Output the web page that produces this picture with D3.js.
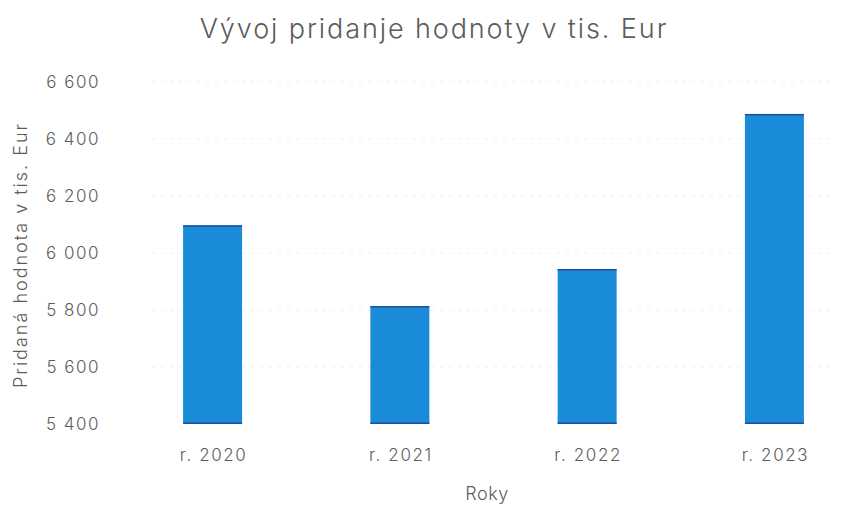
<!DOCTYPE html>
<html>
<head>
<meta charset="utf-8">
<script src="https://cdn.jsdelivr.net/npm/d3@7"></script>
<style>
  body { margin: 0; background: #fff; }
  text { font-family: Inter, Roboto, sans-serif; fill: #5c5c5c; font-weight: 300; }
</style>
</head>
<body>
<div id="chart"></div>
<script>
// data
const years = ["r. 2020", "r. 2021", "r. 2022", "r. 2023"];
const values = [6097, 5814, 5944, 6488];
const yTicks = [5400, 5600, 5800, 6000, 6200, 6400, 6600];

// formatting constants
const width = 842;
const height = 506;
const plot = {left: 152, right: 835, top: 82, bottom: 424};

const fmt = d3.formatLocale({decimal: ",", thousands: "\u00a0", grouping: [3], currency: ["", " €"]}).format(",d");

const svg = d3.select("#chart")
    .append("svg")
        .attr("width", width)
        .attr("height", height);

// scales
const x = d3.scaleBand()
    .domain(years)
    .range([plot.left, plot.right])
    .paddingInner(0.685)
    .paddingOuter(0.166);

const y = d3.scaleLinear()
    .domain([5400, 6600])
    .range([plot.bottom, plot.top]);

// faint grid lines
svg.append("g")
    .selectAll("line")
    .data(yTicks.slice(1))
    .join("line")
        .attr("x1", plot.left)
        .attr("x2", plot.right)
        .attr("y1", d => y(d))
        .attr("y2", d => y(d))
        .attr("stroke", "#ededed")
        .attr("stroke-dasharray", "3,6");

// Y-axis
const yAxis = svg.append("g")
    .attr("transform", `translate(100, 0)`)
    .call(d3.axisLeft(y).tickValues(yTicks).tickFormat(fmt).tickSize(0).tickPadding(0));
yAxis.select(".domain").remove();
yAxis.selectAll("text")
    .attr("font-size", 17)
    .attr("letter-spacing", "1.5px")
    .style("font-family", "Inter, Roboto, sans-serif");

// X-axis
const xAxis = svg.append("g")
    .attr("transform", `translate(0, ${plot.bottom})`)
    .call(d3.axisBottom(x).tickSize(0).tickPadding(25));
xAxis.select(".domain").remove();
xAxis.selectAll("text")
    .attr("font-size", 17)
    .attr("letter-spacing", "1.6px")
    .attr("dx", "1px")
    .style("font-family", "Inter, Roboto, sans-serif");

// bars
const bars = svg.append("g")
    .selectAll("g")
    .data(years.map((k, i) => ({key: k, value: values[i]})))
    .join("g");

bars.append("rect")
    .attr("x", d => x(d.key))
    .attr("y", d => y(d.value))
    .attr("width", x.bandwidth())
    .attr("height", d => y(5400) - y(d.value))
    .attr("fill", "#1a8bd9");

// dark top / bottom edges
bars.append("line")
    .attr("x1", d => x(d.key))
    .attr("x2", d => x(d.key) + x.bandwidth())
    .attr("y1", d => y(d.value) + 0.75)
    .attr("y2", d => y(d.value) + 0.75)
    .attr("stroke", "#1f4f9c")
    .attr("stroke-width", 1.5);

bars.append("line")
    .attr("x1", d => x(d.key))
    .attr("x2", d => x(d.key) + x.bandwidth())
    .attr("y1", y(5400) - 0.75)
    .attr("y2", y(5400) - 0.75)
    .attr("stroke", "#1f4f9c")
    .attr("stroke-width", 1.5);

// title
svg.append("text")
    .attr("x", 434)
    .attr("y", 38)
    .attr("text-anchor", "middle")
    .attr("font-size", 27)
    .attr("letter-spacing", "1.9px")
    .text("Vývoj pridanje hodnoty v tis. Eur");

// axis titles
svg.append("text")
    .attr("x", 487)
    .attr("y", 500)
    .attr("text-anchor", "middle")
    .attr("font-size", 18)
    .attr("letter-spacing", "0.5px")
    .text("Roky");

svg.append("text")
    .attr("transform", `translate(27, 255) rotate(-90)`)
    .attr("text-anchor", "middle")
    .attr("font-size", 18)
    .attr("letter-spacing", "2px")
    .text("Pridaná hodnota v tis. Eur");
</script>
</body>
</html>
